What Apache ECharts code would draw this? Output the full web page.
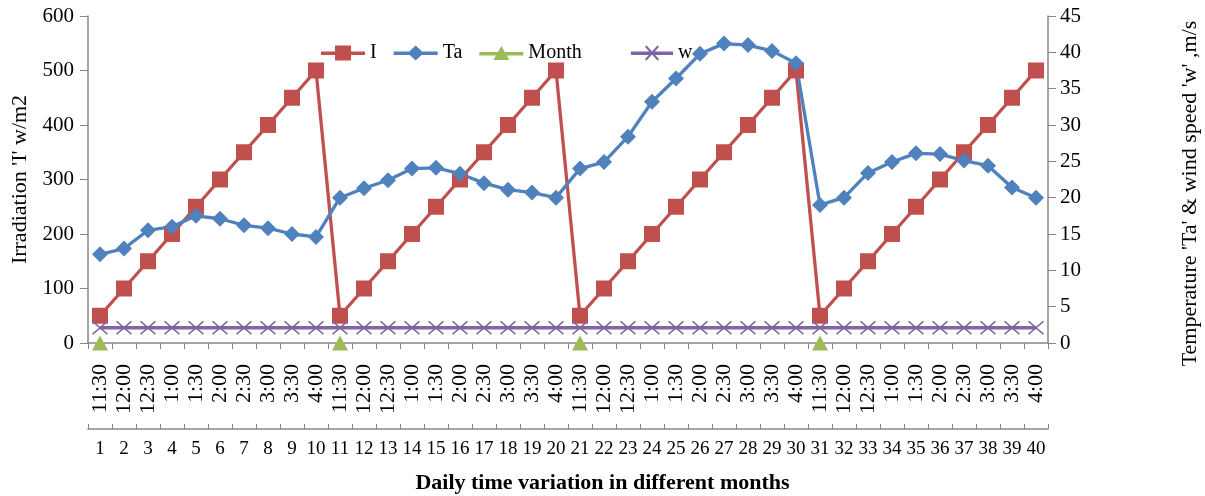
<!DOCTYPE html>
<html>
<head>
<meta charset="utf-8">
<script src="https://cdn.jsdelivr.net/npm/echarts@6/dist/echarts.min.js"></script>
<style>
  html, body { margin: 0; padding: 0; background: #fff; }
  #chart { width: 1205px; height: 496px; }
</style>
</head>
<body>
<div id="chart"></div>
<script>
// x axis: time of day (upper row) and point number (lower row)
const timeLabels = [
  '11:30','12:00','12:30','1:00','1:30','2:00','2:30','3:00','3:30','4:00',
  '11:30','12:00','12:30','1:00','1:30','2:00','2:30','3:00','3:30','4:00',
  '11:30','12:00','12:30','1:00','1:30','2:00','2:30','3:00','3:30','4:00',
  '11:30','12:00','12:30','1:00','1:30','2:00','2:30','3:00','3:30','4:00'
]
const pointNums = [
  '1','2','3','4','5','6','7','8','9','10',
  '11','12','13','14','15','16','17','18','19','20',
  '21','22','23','24','25','26','27','28','29','30',
  '31','32','33','34','35','36','37','38','39','40'
]

// Irradiation I (left axis, w/m2)
const irradiation = [
  50,100,150,200,250,300,350,400,450,500,
  50,100,150,200,250,300,350,400,450,500,
  50,100,150,200,250,300,350,400,450,500,
  50,100,150,200,250,300,350,400,450,500
]
// Ta (right axis)
const tempAir = [
  12.2,13.0,15.5,16.0,17.5,17.1,16.2,15.8,15.0,14.6,
  20.0,21.3,22.4,24.0,24.1,23.3,22.0,21.1,20.7,20.0,
  24.0,24.9,28.4,33.2,36.4,39.8,41.2,41.0,40.2,38.5,
  19.0,20.0,23.4,24.9,26.1,26.0,25.1,24.4,21.4,20.0
]
// Month markers (start of each month)
const month = [
  0,null,null,null,null,null,null,null,null,null,
  0,null,null,null,null,null,null,null,null,null,
  0,null,null,null,null,null,null,null,null,null,
  0,null,null,null,null,null,null,null,null,null
]
// wind speed w (right axis)
const wind = [
  2.1,2.1,2.1,2.1,2.1,2.1,2.1,2.1,2.1,2.1,
  2.1,2.1,2.1,2.1,2.1,2.1,2.1,2.1,2.1,2.1,
  2.1,2.1,2.1,2.1,2.1,2.1,2.1,2.1,2.1,2.1,
  2.1,2.1,2.1,2.1,2.1,2.1,2.1,2.1,2.1,2.1
]

const FONT = 'Liberation Serif'
const AXIS_COLOR = '#868686'
const C_I = '#C0504D', C_TA = '#4F81BD', C_MONTH = '#9BBB59', C_W = '#8064A2'

// legend icons: thick line with the marker on top (44 x 15 box)
const LINE = 'M0,6H44V9.5H0Z'
const ICON_I = 'path://' + LINE + 'M14,0H30V15H14Z'
const ICON_TA = 'path://' + LINE + 'M22,0L30,7.5L22,15L14,7.5Z'
const ICON_MONTH = 'path://' + LINE + 'M22,0L30,14L14,14Z'
const ICON_W = 'path://' + LINE +
  'M15,0L16.6,0L29,13.4L29,15L27.4,15L15,1.6Z' +
  'M29,0L29,1.6L16.6,15L15,15L15,13.4L27.4,0Z'

const chart = echarts.init(document.getElementById('chart'))

const legendText = { fontFamily: FONT, fontSize: 20, color: '#000' }

const option = {
  animation: false,
  textStyle: { fontFamily: FONT, color: '#000' },
  title: {
    text: 'Daily time variation in different months',
    left: 'center',
    top: 467,
    textStyle: { fontFamily: FONT, fontSize: 22, fontWeight: 'bold', color: '#000' }
  },
  // Excel leaves a wider gap before 'w', so it gets its own legend
  legend: [
    {
      left: 316,
      top: 38,
      itemWidth: 44,
      itemHeight: 15,
      itemGap: 17,
      textStyle: legendText,
      data: [
        { name: 'I', icon: ICON_I, itemStyle: { color: C_I, borderWidth: 0 } },
        { name: 'Ta', icon: ICON_TA, itemStyle: { color: C_TA, borderWidth: 0 } },
        { name: 'Month', icon: ICON_MONTH, itemStyle: { color: C_MONTH, borderWidth: 0 } }
      ]
    },
    {
      left: 626,
      top: 38,
      itemWidth: 42,
      itemHeight: 15,
      textStyle: legendText,
      data: [{ name: 'w', icon: ICON_W, itemStyle: { color: C_W, borderWidth: 0 } }]
    }
  ],
  grid: { left: 88, right: 157, top: 16, bottom: 153, outerBoundsMode: 'none' },
  xAxis: [
    {
      type: 'category',
      data: timeLabels,
      position: 'bottom',
      axisLine: { onZero: false, lineStyle: { color: AXIS_COLOR, width: 1.5 } },
      axisTick: { show: true, interval: 0, length: 6, lineStyle: { color: AXIS_COLOR } },
      axisLabel: { interval: 0, rotate: 90, margin: 21, fontSize: 22, fontFamily: FONT, color: '#000' }
    },
    {
      type: 'category',
      data: pointNums,
      position: 'bottom',
      offset: 86,
      axisLine: { show: true, onZero: false, lineStyle: { color: AXIS_COLOR, width: 1.5 } },
      axisTick: { show: true, interval: 0, inside: true, length: 5, lineStyle: { color: AXIS_COLOR } },
      axisLabel: { interval: 0, margin: 11, fontSize: 19, fontFamily: FONT, color: '#000' }
    }
  ],
  yAxis: [
    {
      type: 'value',
      min: 0, max: 600, interval: 100,
      name: "Irradiation 'I' w/m2",
      nameLocation: 'middle',
      nameGap: 56,
      nameTextStyle: { fontFamily: FONT, fontSize: 22, color: '#000' },
      axisLine: { show: true, lineStyle: { color: AXIS_COLOR, width: 1.5 } },
      axisTick: { show: true, length: 8, lineStyle: { color: AXIS_COLOR } },
      axisLabel: { fontSize: 21, fontFamily: FONT, color: '#000', margin: 14 },
      splitLine: { show: false }
    },
    {
      type: 'value',
      min: 0, max: 45, interval: 5,
      position: 'right',
      name: "Temperature 'Ta' & wind speed 'w' ,m/s",
      nameLocation: 'middle',
      nameGap: 131,
      nameTextStyle: { fontFamily: FONT, fontSize: 22, color: '#000', padding: [0, 0, 0, -28] },
      axisLine: { show: true, lineStyle: { color: AXIS_COLOR, width: 1.5 } },
      axisTick: { show: true, length: 8, lineStyle: { color: AXIS_COLOR } },
      axisLabel: { fontSize: 21, fontFamily: FONT, color: '#000', margin: 12 },
      splitLine: { show: false }
    }
  ],
  series: [
    {
      name: 'I',
      type: 'line',
      yAxisIndex: 0,
      data: irradiation,
      symbol: 'rect',
      symbolSize: 16,
      lineStyle: { color: C_I, width: 3.3 },
      itemStyle: { color: C_I }
    },
    {
      name: 'Ta',
      type: 'line',
      yAxisIndex: 1,
      data: tempAir,
      symbol: 'diamond',
      symbolSize: [16, 16],
      lineStyle: { color: C_TA, width: 3.3 },
      itemStyle: { color: C_TA }
    },
    {
      name: 'Month',
      type: 'line',
      yAxisIndex: 1,
      data: month,
      connectNulls: false,
      symbol: 'triangle',
      symbolSize: [16, 15],
      lineStyle: { color: C_MONTH, width: 3.3 },
      itemStyle: { color: C_MONTH }
    },
    {
      name: 'w',
      type: 'line',
      yAxisIndex: 1,
      data: wind,
      symbol: 'path://M0,0L10,10M10,0L0,10',
      symbolSize: [15, 13],
      lineStyle: { color: C_W, width: 3.3 },
      itemStyle: { color: 'none', borderColor: C_W, borderWidth: 1.5 }
    }
  ]
}

chart.setOption(option)
</script>
</body>
</html>
